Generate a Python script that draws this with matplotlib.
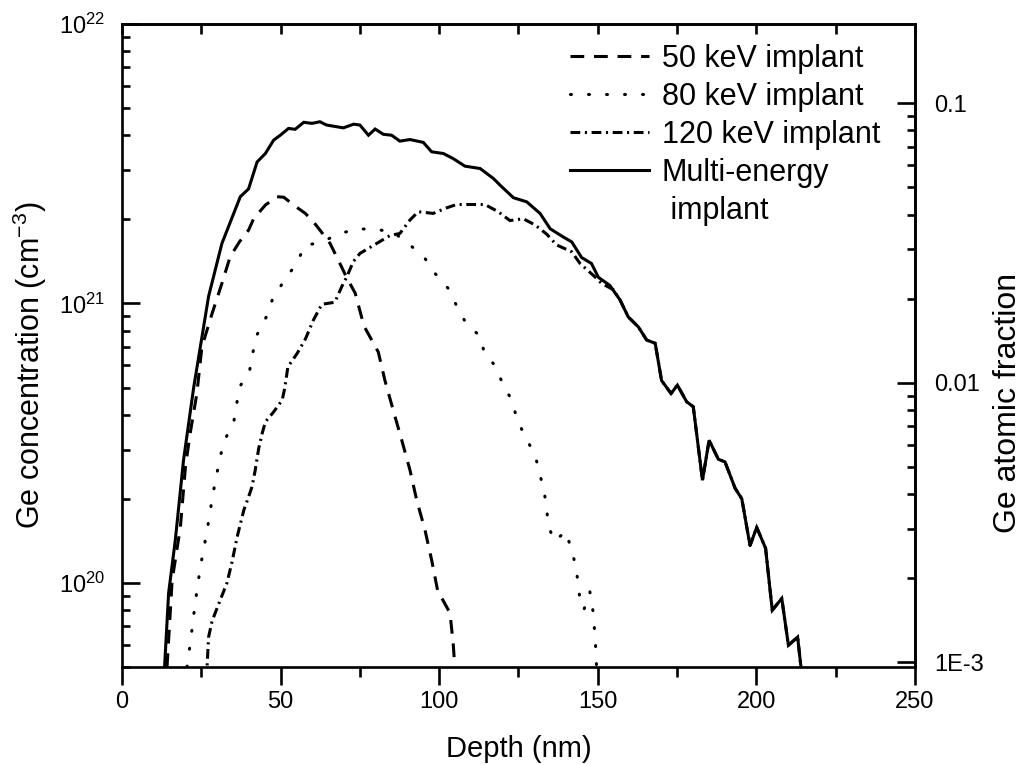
import numpy as np
import matplotlib
matplotlib.use("Agg")
import matplotlib.pyplot as plt
from matplotlib.ticker import LogLocator, FixedLocator, FixedFormatter, NullFormatter

plt.rcParams['font.family'] = ['Liberation Sans', 'DejaVu Sans']
plt.rcParams['mathtext.fontset'] = 'custom'
plt.rcParams['mathtext.rm'] = 'Liberation Sans'
plt.rcParams['mathtext.it'] = 'Liberation Sans:italic'

# Datos (profundidad en nm, concentracion en cm^-3)
d50 = [14.2, 15.8, 18.4, 20.0, 21.5, 23.6, 25.2, 28.4, 31.5, 34.1, 37.0, 39.9, 41.5, 45.2,
       48.9, 51.0, 54.1, 57.8, 60.5, 62.9, 65.6, 68.7, 70.8, 73.5, 76.3, 80.8, 82.9, 85.5,
       88.2, 90.8, 92.9, 95.5, 97.6, 99.5, 103.4, 104.4, 105.2]
c50 = [5.0e19, 1.02e20, 1.58e20, 2.6e20, 3.43e20, 4.76e20, 7.0e20, 9.2e20, 1.18e21, 1.47e21,
       1.66e21, 1.83e21, 2.01e21, 2.25e21, 2.41e21, 2.40e21, 2.25e21, 2.10e21, 1.95e21,
       1.80e21, 1.64e21, 1.39e21, 1.24e21, 1.09e21, 8.3e20, 6.7e20, 5.3e20, 4.15e20,
       3.24e20, 2.53e20, 1.98e20, 1.55e20, 1.21e20, 9.4e19, 7.8e19, 6.1e19, 4.5e19]

d80 = [20.5, 21.7, 23.1, 24.7, 26.8, 28.6, 30.8, 32.2, 35.2, 37.0, 40.3, 41.3, 42.5, 45.6,
       47.5, 51.2, 55.2, 57.6, 63.0, 68.7, 74.5, 80.3, 85.5, 90.8, 95.5, 98.7, 102.9, 105.5,
       108.7, 112.9, 114.3, 117.6, 119.9, 122.9, 124.5, 127.1, 130.2, 131.6, 133.1, 134.6,
       136.3, 140.0, 141.5, 143.1, 144.5, 145.6, 147.5, 148.5, 149.2, 149.8]
c80 = [5.0e19, 6.3e19, 8.5e19, 1.14e20, 1.53e20, 2.06e20, 2.77e20, 3.22e20, 3.74e20, 5.0e20,
       5.8e20, 6.7e20, 7.7e20, 9.0e20, 1.04e21, 1.21e21, 1.40e21, 1.61e21, 1.66e21, 1.78e21,
       1.85e21, 1.84e21, 1.80e21, 1.62e21, 1.45e21, 1.28e21, 1.13e21, 9.8e20, 8.4e20,
       7.65e20, 6.6e20, 6.0e20, 5.2e20, 4.5e20, 3.87e20, 3.33e20, 2.88e20, 2.48e20, 2.13e20,
       1.58e20, 1.41e20, 1.53e20, 1.33e20, 1.15e20, 8.5e19, 8.0e19, 9.3e19, 7.9e19, 6.3e19,
       4.5e19]

d120 = [26.6, 27.3, 28.4, 31.0, 33.1, 34.7, 36.3, 38.4, 39.9, 41.0, 42.0, 43.1, 44.2, 45.2,
        47.8, 50.5, 51.3, 52.3, 55.2, 57.8, 60.3, 63.0, 67.1, 69.3, 70.8, 72.9, 75.0, 80.3,
        84.5, 87.6, 90.8, 93.4, 98.1, 102.4, 105.5, 110.2, 114.4, 118.6, 122.3, 126.5, 130.2,
        133.9, 137.0, 141.8, 144.4, 148.6, 151.2, 154.9, 157.0, 159.6, 162.8, 165.4, 168.1,
        170.1, 173.1, 175.1, 178.0, 180.1, 183.0, 185.1, 188.0, 190.1, 193.3, 195.4, 198.0,
        200.1, 202.9, 205.0, 208.0, 210.1, 213.0, 215.0]
c120 = [4.5e19, 6.4e19, 7.3e19, 8.7e19, 1.0e20, 1.19e20, 1.46e20, 1.82e20, 2.03e20, 2.21e20,
        2.53e20, 3.03e20, 3.43e20, 3.77e20, 4.09e20, 4.51e20, 4.97e20, 5.93e20, 6.62e20,
        7.45e20, 8.7e20, 9.93e20, 1.01e21, 1.15e21, 1.24e21, 1.41e21, 1.51e21, 1.64e21,
        1.75e21, 1.78e21, 1.99e21, 2.13e21, 2.10e21, 2.20e21, 2.26e21, 2.26e21, 2.26e21,
        2.13e21, 1.98e21, 2.01e21, 1.91e21, 1.77e21, 1.62e21, 1.53e21, 1.39e21, 1.26e21,
        1.18e21, 1.12e21, 1.03e21, 8.95e20, 8.24e20, 7.4e20, 7.2e20, 5.3e20, 4.76e20, 5.1e20,
        4.45e20, 4.27e20, 2.33e20, 3.24e20, 2.77e20, 2.71e20, 2.18e20, 2.0e20, 1.36e20,
        1.58e20, 1.33e20, 7.98e19, 8.8e19, 5.98e19, 6.4e19, 4.0e19]

dmulti = [13.2, 14.7, 16.8, 19.4, 22.6, 27.3, 31.5, 37.3, 39.9, 42.6, 45.2, 47.8, 49.9, 52.5,
          54.6, 57.3, 59.9, 62.4, 64.5, 69.8, 73.0, 75.0, 77.7, 79.8, 82.4, 85.0, 87.6, 90.8,
          95.0, 97.6, 101.3, 104.4, 108.1, 112.9, 117.1, 119.2, 123.4, 127.6, 131.8, 135.0,
          139.1, 141.8, 144.9, 148.0, 150.2, 153.8, 157.0, 159.6, 162.8, 165.4, 168.1, 170.1,
          173.1, 175.1, 178.0, 180.1, 183.0, 185.1, 188.0, 190.1, 193.3, 195.4, 198.0, 200.1,
          202.9, 205.0, 208.0, 210.1, 213.0, 215.0]
cmulti = [4.5e19, 9.2e19, 1.42e20, 2.75e20, 5.0e20, 1.06e21, 1.64e21, 2.41e21, 2.57e21,
          3.21e21, 3.44e21, 3.84e21, 4.0e21, 4.23e21, 4.2e21, 4.45e21, 4.41e21, 4.47e21,
          4.35e21, 4.25e21, 4.38e21, 4.35e21, 4.0e21, 4.21e21, 4.03e21, 4.0e21, 3.81e21,
          3.86e21, 3.77e21, 3.49e21, 3.44e21, 3.30e21, 3.10e21, 3.04e21, 2.80e21, 2.65e21,
          2.39e21, 2.31e21, 2.10e21, 1.85e21, 1.73e21, 1.66e21, 1.46e21, 1.39e21, 1.24e21,
          1.16e21, 1.03e21, 8.95e20, 8.24e20, 7.4e20, 7.2e20, 5.3e20, 4.76e20, 5.1e20, 4.45e20,
          4.27e20, 2.33e20, 3.24e20, 2.77e20, 2.71e20, 2.18e20, 2.0e20, 1.36e20, 1.58e20,
          1.33e20, 7.98e19, 8.8e19, 5.98e19, 6.4e19, 4.0e19]

labels = ["50 keV implant", "80 keV implant", "120 keV implant", "Multi-energy", " implant"]
n_si = 5.2e22  # densidad atomica para el eje derecho

fig = plt.figure(figsize=(10.26, 7.65), dpi=100)
ax = fig.add_axes([0.1189, 0.1281, 0.7729, 0.8405])

lw = 2.2
ax.plot(d50, c50, color='k', lw=lw, dashes=(4.5, 3.2), label=labels[0])
l80, = ax.plot(d80, c80, color='k', lw=lw, dashes=(0.3, 5.6), label=labels[1])
l80.set_dash_capstyle('round')
ax.plot(d120, c120, color='k', lw=lw, dashes=(3.2, 1.5, 0.7, 1.5), label=labels[2])
ax.plot(dmulti, cmulti, color='k', lw=lw, solid_joinstyle='miter', label=labels[3])
ax.plot([], [], color='none', label=labels[4])  # segunda linea de la leyenda

ax.set_yscale('log')
ax.set_xlim(0, 250)
ax.set_ylim(5e19, 1e22)

for s in ax.spines.values():
    s.set_linewidth(1.9)

ax.set_xticks(np.arange(0, 251, 50))
ax.set_xticks(np.arange(25, 250, 50), minor=True)
ax.tick_params(axis='x', which='major', direction='out', length=13, width=1.9,
               labelsize=17, pad=4)
ax.tick_params(axis='x', which='minor', direction='out', length=7, width=1.9)
ax.yaxis.set_major_locator(LogLocator(base=10, numticks=10))
ax.yaxis.set_minor_locator(LogLocator(base=10, subs=np.arange(2, 10), numticks=10))
ax.yaxis.set_minor_formatter(NullFormatter())
ax.tick_params(axis='y', which='major', direction='in', length=13, width=1.9,
               labelsize=17, pad=12)
ax.tick_params(axis='y', which='minor', direction='in', length=6, width=1.9)

top = ax.secondary_xaxis('top')
top.set_xticks(np.arange(0, 251, 25))
top.tick_params(axis='x', direction='in', length=7, width=1.9, labeltop=False)
top.spines['top'].set_linewidth(1.9)

ax.set_xlabel("Depth (nm)", fontsize=21, labelpad=16)
ax.set_ylabel("Ge concentration (cm$^{-3}$)", fontsize=22)
ax.yaxis.set_label_coords(-0.092, 0.47)

# eje derecho: fraccion atomica
ax2 = ax.twinx()
ax2.set_yscale('log')
ax2.set_ylim(5e19 / n_si, 1e22 / n_si)
ax2.yaxis.set_major_locator(FixedLocator([1e-3, 1e-2, 1e-1]))
ax2.yaxis.set_major_formatter(FixedFormatter(["1E-3", "0.01", "0.1"]))
ax2.yaxis.set_minor_locator(LogLocator(base=10, subs=np.arange(2, 10), numticks=10))
ax2.yaxis.set_minor_formatter(NullFormatter())
ax2.tick_params(axis='y', which='major', direction='in', length=13, width=1.9,
                labelsize=17, pad=14)
ax2.tick_params(axis='y', which='minor', direction='in', length=6, width=1.9)
ax2.spines['right'].set_linewidth(1.9)
ax2.set_ylabel("Ge atomic fraction", fontsize=23)
ax2.yaxis.set_label_coords(1.099, 0.41)

ax.legend(loc='upper left', bbox_to_anchor=(0.565, 0.969), frameon=False, fontsize=22,
          handlelength=2.6, handletextpad=0.4, labelspacing=0.26, borderpad=0,
          borderaxespad=0)

fig.savefig("out.png", dpi=100)
